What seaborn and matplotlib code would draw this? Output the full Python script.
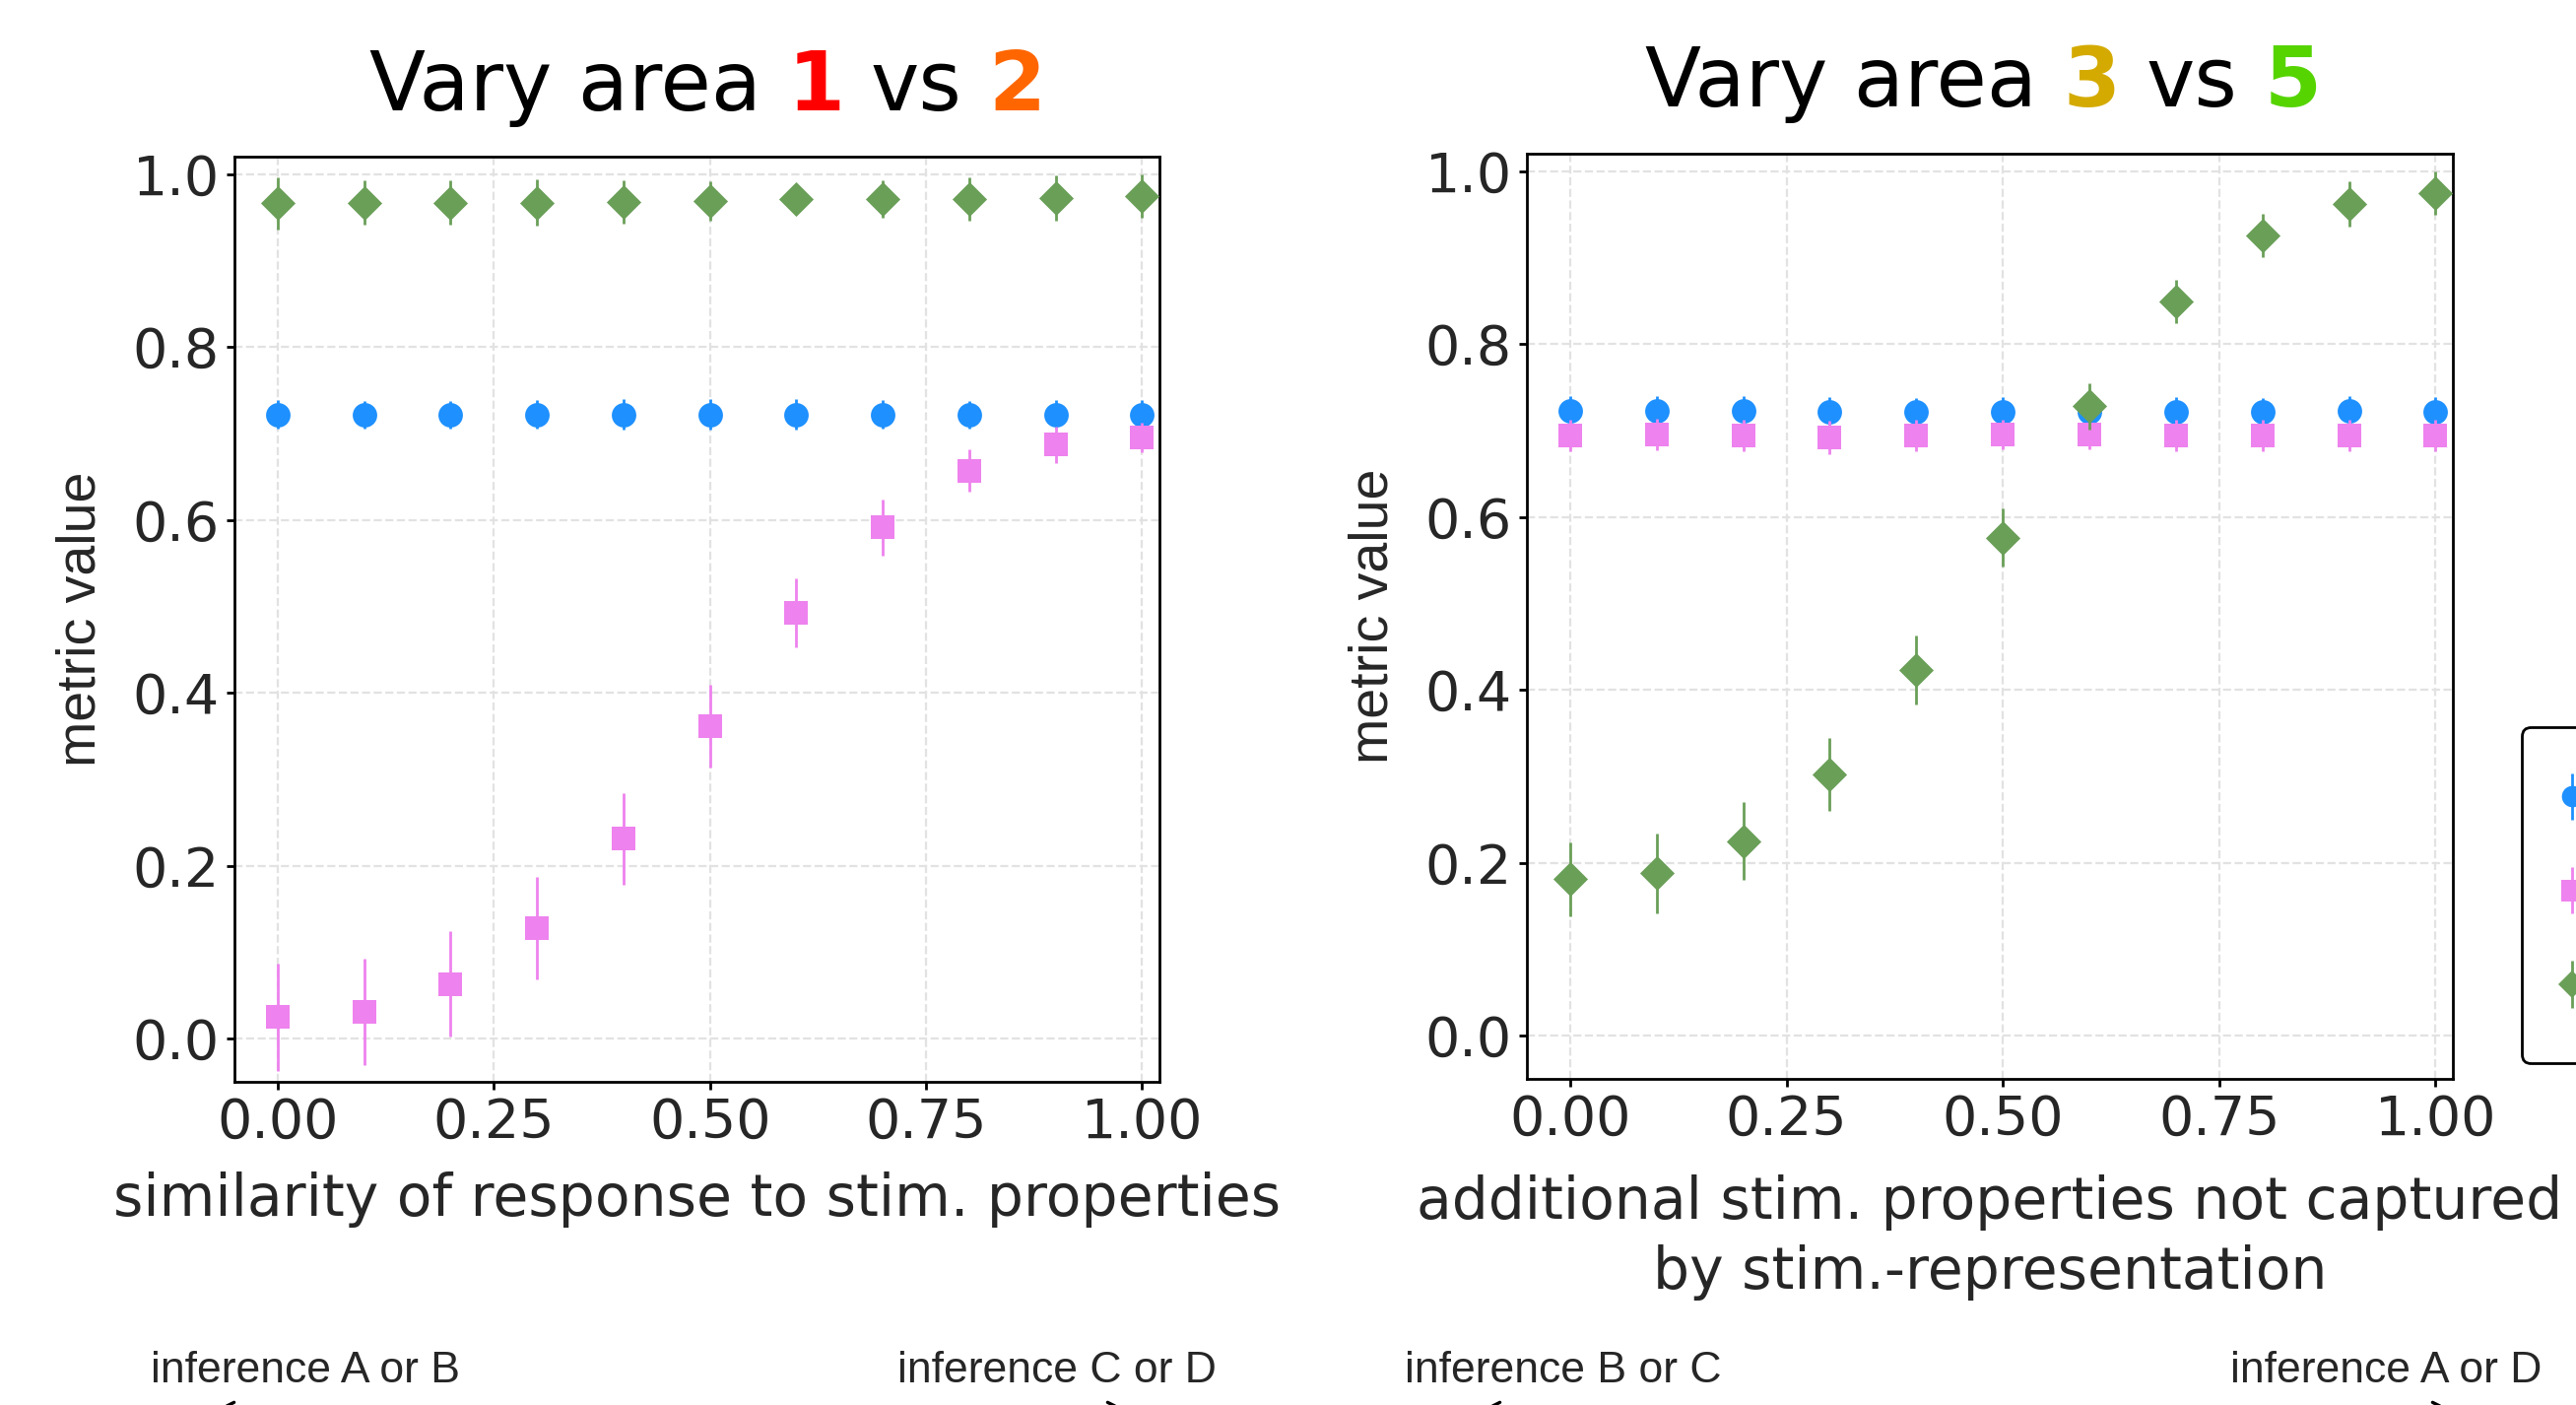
import numpy as np
import pandas as pd
import seaborn as sns
import matplotlib.pyplot as plt

x_vals = [0.0, 0.1, 0.2, 0.3, 0.4, 0.5, 0.6, 0.7, 0.8, 0.9, 1.0]
metric_names = ['metric 1', 'metric 2', 'metric 3']
metric_colors = ['#1E90FF', '#EE82EE', '#6A9F58']
metric_markers = ['o', 's', 'D']

# left panel: vary area 1 vs 2
left_blue = [0.722, 0.721, 0.721, 0.722, 0.722, 0.722, 0.722, 0.722, 0.721, 0.722, 0.722]
left_blue_err = [0.017, 0.016, 0.016, 0.017, 0.018, 0.018, 0.018, 0.017, 0.016, 0.017, 0.016]
left_pink = [0.025, 0.031, 0.063, 0.128, 0.231, 0.361, 0.492, 0.591, 0.657, 0.687, 0.695]
left_pink_err = [0.062, 0.062, 0.061, 0.059, 0.053, 0.048, 0.040, 0.033, 0.025, 0.021, 0.017]
left_green = [0.966, 0.967, 0.967, 0.967, 0.968, 0.969, 0.971, 0.971, 0.971, 0.972, 0.974]
left_green_err = [0.030, 0.026, 0.026, 0.027, 0.025, 0.023, 0.017, 0.022, 0.025, 0.026, 0.025]

# right panel: vary area 3 vs 5
right_blue = [0.723, 0.723, 0.723, 0.722, 0.721, 0.722, 0.722, 0.722, 0.721, 0.723, 0.722]
right_blue_err = [0.017, 0.017, 0.017, 0.016, 0.016, 0.016, 0.017, 0.017, 0.016, 0.017, 0.017]
right_pink = [0.694, 0.695, 0.694, 0.692, 0.694, 0.695, 0.695, 0.694, 0.694, 0.694, 0.694]
right_pink_err = [0.018, 0.018, 0.018, 0.019, 0.018, 0.017, 0.017, 0.018, 0.018, 0.018, 0.018]
right_green = [0.181, 0.188, 0.225, 0.302, 0.423, 0.576, 0.728, 0.849, 0.925, 0.962, 0.974]
right_green_err = [0.043, 0.046, 0.045, 0.042, 0.040, 0.034, 0.027, 0.025, 0.025, 0.026, 0.025]

sns.set_style('ticks')
plt.rcParams['font.family'] = ['DejaVu Sans']

W, H = 2615, 1426
fig = plt.figure(figsize=(W / 200, H / 200), dpi=200)


def px_axes(l, t, r, b):
    return fig.add_axes([l / W, 1 - b / H, (r - l) / W, (b - t) / H])


ax1 = px_axes(238, 159, 1177, 1098)
ax2 = px_axes(1550, 156, 2490, 1095)

panels = [
    (ax1, [left_blue, left_pink, left_green], [left_blue_err, left_pink_err, left_green_err],
     'similarity of response to stim. properties', 8),
    (ax2, [right_blue, right_pink, right_green], [right_blue_err, right_pink_err, right_green_err],
     'additional stim. properties not captured\nby stim.-representation', 10),
]

for ax, vals, errs, xlab, xpad in panels:
    df = pd.DataFrame({
        'x': x_vals * 3,
        'value': sum(vals, []),
        'err': sum(errs, []),
        'metric': np.repeat(metric_names, len(x_vals)),
    })
    for i, name in enumerate(metric_names):
        sub = df[df.metric == name]
        ax.errorbar(sub.x, sub.value, yerr=sub.err, fmt='none', ecolor=metric_colors[i],
                    elinewidth=1.0, zorder=3 + 2 * i)
        sns.scatterplot(data=sub, x='x', y='value', marker=metric_markers[i],
                        color=metric_colors[i], s=80, linewidth=0, ax=ax,
                        zorder=4 + 2 * i, legend=False)
    ax.set_xlim(-0.05, 1.02)
    ax.set_ylim(-0.05, 1.02)
    ax.set_xticks([0, 0.25, 0.5, 0.75, 1.0])
    ax.set_yticks([0, 0.2, 0.4, 0.6, 0.8, 1.0])
    ax.grid(True, ls='--', color='#e2e2e2', lw=0.8)
    ax.set_axisbelow(True)
    ax.tick_params(labelsize=20, length=3, width=1, pad=2.5, color='black')
    for sp in ax.spines.values():
        sp.set_visible(True)
        sp.set_color('black')
        sp.set_linewidth(1.0)
    ax.set_xlabel(xlab, fontsize=21, labelpad=xpad, linespacing=1.3)
    ax.set_ylabel('metric value', fontsize=20, fontfamily='Liberation Sans', labelpad=9.5)

# coloured titles
renderer = fig.canvas.get_renderer()


def text_width(s, **kw):
    t = fig.text(0, 0, s, **kw)
    w = t.get_window_extent(renderer).width
    t.remove()
    return w


def colored_title(cx, base_y, parts, fontsize=30):
    gap = text_width('a a', fontsize=fontsize) - text_width('aa', fontsize=fontsize)
    widths = [text_width(s, fontsize=fontsize, fontweight=fw) for s, c, fw in parts]
    x = cx - (sum(widths) + gap * (len(parts) - 1)) / 2
    for (s, c, fw), w in zip(parts, widths):
        fig.text(x / W, 1 - base_y / H, s, color=c, fontsize=fontsize, fontweight=fw,
                 ha='left', va='baseline')
        x += w + gap


colored_title(718, 112, [('Vary area', 'black', 'normal'), ('1', '#FF0000', 'bold'),
                         ('vs', 'black', 'normal'), ('2', '#FF6600', 'bold')])
colored_title(2013, 108, [('Vary area', 'black', 'normal'), ('3', '#D4AA00', 'bold'),
                          ('vs', 'black', 'normal'), ('5', '#55D400', 'bold')])

# inference annotations and arrows below the panels
notes = [(310, 'inference A or B'), (1073, 'inference C or D'),
         (1587, 'inference B or C'), (2422, 'inference A or D')]
for xp, s in notes:
    fig.text(xp / W, 1 - 1403 / H, s, ha='center', va='baseline', fontsize=16,
             fontfamily='Liberation Sans')
for x0, x1 in [(195, 1167), (1480, 2512)]:
    ax1.annotate('', xy=(x0 / W, 1 - 1440 / H), xytext=(x1 / W, 1 - 1440 / H),
                 xycoords='figure fraction', textcoords='figure fraction',
                 annotation_clip=False,
                 arrowprops=dict(arrowstyle='<->, head_length=0.8, head_width=0.4',
                                 lw=1.2, color='black', mutation_scale=15))

# legend (partly outside the figure, as in the original)
handles = []
for c, m in zip(metric_colors, metric_markers):
    h = ax2.errorbar([np.nan], [np.nan], yerr=[np.nan], fmt=m, color=c, ecolor=c,
                     ms=7.8 if m != 'D' else 7.0, mew=0, elinewidth=1.0)
    handles.append(h)
fig.legend(handles, metric_names, loc='upper left', bbox_to_anchor=(2560 / W, 1 - 738 / H),
           bbox_transform=fig.transFigure, fontsize=17, handlelength=0.05, handleheight=1.25,
           labelspacing=0.94, borderpad=1.06, borderaxespad=0, frameon=True, fancybox=True,
           edgecolor='black', framealpha=1)

fig.savefig('out.png', dpi=200)
